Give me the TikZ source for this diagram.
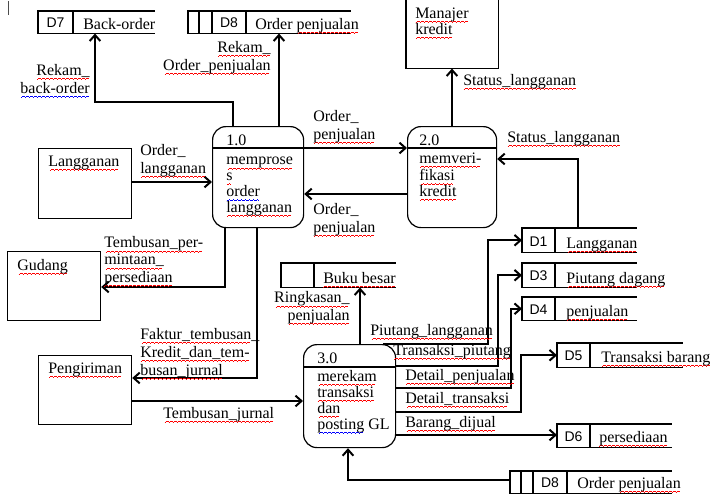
\documentclass[tikz,border=0pt]{standalone}
\usepackage{fontspec}
\setmainfont{Liberation Serif}
\newfontfamily\sansf{Liberation Sans}
\usetikzlibrary{arrows.meta}
\newcommand\wavecell{\hbox{\rule[-3.4pt]{0.75pt}{0.5pt}\rule[-3.0pt]{0.75pt}{0.5pt}\rule[-2.6pt]{0.75pt}{0.5pt}\rule[-3.0pt]{0.75pt}{0.5pt}}}
\newcommand\wv[2]{\setbox0\hbox{#2}\rlap{\color{#1}\hbox to\wd0{\cleaders\wavecell\hfill}}\box0}
\newcommand\redw[1]{\wv{red}{#1}}
\newcommand\bluew[1]{\wv{blue}{#1}}
\tikzset{
  frame/.style={line width=0.9pt},
  ent/.style={draw, line width=0.9pt, inner sep=0, anchor=north west},
  plain/.style={inner sep=0, anchor=north west},
  proc/.style={draw, line width=0.9pt, rounded corners=10pt, inner sep=0, anchor=north west},
  flow/.style={line width=1.7pt, -{Straight Barb[length=4.5pt,width=8pt,line width=1.5pt]}},
  lbl/.style={inner sep=0, anchor=base west, align=left, font=\fontsize{12}{13.5}\selectfont},
  lblr/.style={lbl, anchor=base east, align=right},
  body/.style={lbl, font=\fontsize{12}{11.8}\selectfont},
  dl/.style={inner sep=0, anchor=base, font=\sansf\fontsize{10.5}{12}\selectfont}
}
\begin{document}
\begin{tikzpicture}[x=0.75pt,y=-0.75pt]
\useasboundingbox (0,0) rectangle (710,501);
\draw[line width=0.6pt, black!70] (8,1) -- (8,15);

% external entities
\node[plain, minimum width=92*0.75pt, minimum height=68*0.75pt] (mk) at (406,0) {};
\draw[frame] (mk.north west) -- (mk.south west) -- (mk.south east) -- (mk.north east);
\node[ent, minimum width=93*0.75pt, minimum height=70*0.75pt] (lg) at (38,148) {};
\node[ent, minimum width=93*0.75pt, minimum height=69*0.75pt] (gd) at (7,251) {};
\node[ent, minimum width=93*0.75pt, minimum height=69*0.75pt] (pg) at (38,355) {};
\node[body, font=\fontsize{12}{12}\selectfont] (tmk) at (415,34) {\redw{Manajer}\\\redw{kredit}};
\node[lbl] (tlg) at (48,166) {\redw{Langganan}};
\node[lbl] (tgd) at (17,270) {\redw{Gudang}};
\node[lbl] (tpg) at (48,373) {\redw{Pengiriman}};

% processes
\node[proc, minimum width=91*0.75pt, minimum height=101*0.75pt] (p1) at (212,126) {};
\node[proc, minimum width=89*0.75pt, minimum height=101*0.75pt] (p2) at (407,126) {};
\node[proc, minimum width=92*0.75pt, minimum height=103*0.75pt] (p3) at (303,344) {};
\draw[frame] (p1.west |- 0,148) -- (p1.east |- 0,148);
\draw[frame] (p2.west |- 0,148) -- (p2.east |- 0,148);
\draw[frame] (p3.west |- 0,367) -- (p3.east |- 0,367);
\node[lbl] (n1) at (226,145) {1.0};
\node[body] (b1) at (226,212) {\redw{memprose}\\\redw{s}\\\bluew{order}\\\redw{langganan}};
\node[lbl] (n2) at (419,145) {2.0};
\node[body] (b2) at (419,196) {\redw{memveri-}\\\redw{fikasi}\\\redw{kredit}};
\node[lbl] (n3) at (317,363) {3.0};
\node[body, font=\fontsize{12}{12}\selectfont] (b3) at (317,429) {\redw{merekam}\\\redw{transaksi}\\\redw{dan}\\\bluew{posting}\ GL};

% data stores
\node[plain, minimum width=116*0.75pt, minimum height=22*0.75pt] (d7) at (38,11) {};
\draw[frame] (d7.north east) -- (d7.north west) -- (d7.south west) -- (d7.south east);
\draw[frame] (73,0 |- d7.north) -- (73,0 |- d7.south);
\node[dl] (d7a) at (55.5,27) {D7};
\node[lbl] (d7b) at (83,29) {Back-order};

\node[plain, minimum width=162*0.75pt, minimum height=22*0.75pt] (d8t) at (188,11) {};
\draw[frame] (d8t.north east) -- (d8t.north west) -- (d8t.south west) -- (d8t.south east);
\draw[frame] (199,0 |- d8t.north) -- (199,0 |- d8t.south);
\draw[frame] (212,0 |- d8t.north) -- (212,0 |- d8t.south);
\draw[frame] (246,0 |- d8t.north) -- (246,0 |- d8t.south);
\node[dl] (d8ta) at (229,27) {D8};
\node[lbl] (d8tb) at (255,29) {Order \redw{penjualan}};

\node[plain, minimum width=114*0.75pt, minimum height=24*0.75pt] (bb) at (281,263) {};
\draw[frame] (bb.north east) -- (bb.north west) -- (bb.south west) -- (bb.south east);
\draw[frame] (314,0 |- bb.north) -- (314,0 |- bb.south);
\node[lbl] (bbt) at (323,283) {\redw{Buku besar}};

\node[plain, minimum width=114*0.75pt, minimum height=24*0.75pt] (d1) at (522,228) {};
\draw[frame] (d1.north east) -- (d1.north west) -- (d1.south west) -- (d1.south east);
\draw[frame] (555,0 |- d1.north) -- (555,0 |- d1.south);
\node[dl] (d1a) at (538.5,246) {D1};
\node[lbl] (d1b) at (566,248) {\redw{Langganan}};

\node[plain, minimum width=114*0.75pt, minimum height=24*0.75pt] (d3) at (522,263) {};
\draw[frame] (d3.north east) -- (d3.north west) -- (d3.south west) -- (d3.south east);
\draw[frame] (555,0 |- d3.north) -- (555,0 |- d3.south);
\node[dl] (d3a) at (538.5,280) {D3};
\node[lbl] (d3b) at (566,283) {\redw{Piutang dagang}};

\node[plain, minimum width=114*0.75pt, minimum height=23*0.75pt] (d4) at (522,297) {};
\draw[frame] (d4.north east) -- (d4.north west) -- (d4.south west) -- (d4.south east);
\draw[frame] (555,0 |- d4.north) -- (555,0 |- d4.south);
\node[dl] (d4a) at (538.5,314) {D4};
\node[lbl] (d4b) at (566,316) {\redw{penjualan}};

\node[plain, minimum width=125*0.75pt, minimum height=24*0.75pt] (d5) at (557,343) {};
\draw[frame] (d5.north east) -- (d5.north west) -- (d5.south west) -- (d5.south east);
\draw[frame] (590,0 |- d5.north) -- (590,0 |- d5.south);
\node[dl] (d5a) at (573.5,360) {D5};
\node[lbl] (d5b) at (601,362) {\redw{Transaksi barang}};

\node[plain, minimum width=114*0.75pt, minimum height=23*0.75pt] (d6) at (557,424) {};
\draw[frame] (d6.north east) -- (d6.north west) -- (d6.south west) -- (d6.south east);
\draw[frame] (590,0 |- d6.north) -- (590,0 |- d6.south);
\node[dl] (d6a) at (573.5,441) {D6};
\node[lbl] (d6b) at (599,442) {\redw{persediaan}};

\node[plain, minimum width=161*0.75pt, minimum height=22*0.75pt] (d8b) at (510,471) {};
\draw[frame] (d8b.north east) -- (d8b.north west) -- (d8b.south west) -- (d8b.south east);
\draw[frame] (521,0 |- d8b.north) -- (521,0 |- d8b.south);
\draw[frame] (533,0 |- d8b.north) -- (533,0 |- d8b.south);
\draw[frame] (567,0 |- d8b.north) -- (567,0 |- d8b.south);
\node[dl] (d8ba) at (550,487) {D8};
\node[lbl] (d8bb) at (577,488) {Order \redw{penjualan}};

% flows
\draw[flow] (233,0 |- p1.north) |- (95,102) -- (95,0 |- d7.south);
\draw[flow] (279,0 |- p1.north) -- (279,0 |- d8t.south);
\draw[flow] (452,0 |- p2.north) -- (452,0 |- mk.south);
\draw[flow] (p1.east |- 0,148) -- (p2.west |- 0,148);
\draw[flow] (p2.west |- 0,194) -- (p1.east |- 0,194);
\draw[flow] (lg.east |- 0,182) -- (p1.west |- 0,182);
\draw[flow] (225,0 |- p1.south) |- (gd.east |- 0,287);
\draw[flow] (257,0 |- p1.south) |- (pg.east |- 0,378);
\draw[flow] (pg.east |- 0,401) -- (p3.west |- 0,401);
\draw[flow] (360,0 |- p3.north) -- (360,0 |- bb.south);
\draw[flow] (d8b.west |- 0,480) -| (348,0 |- p3.south);
\draw[flow] (383,0 |- p3.north) -| (488,0 |- d1.west) -- (d1.west);
\draw[flow] (p3.east |- 0,366) -| (498,0 |- d3.west) -- (d3.west);
\draw[flow] (p3.east |- 0,388) -| (511,0 |- d4.west) -- (d4.west);
\draw[flow] (p3.east |- 0,412) -| (521,0 |- d5.west) -- (d5.west);
\draw[flow] (p3.east |- 0,435) -- (d6.west |- 0,435);
\draw[flow] (578,0 |- d1.north) |- (p2.east |- 0,159);

% flow labels
\node[lblr] (f1) at (90,93) {\redw{Rekam\_}\\\bluew{back-order}};
\node[lblr] (f2) at (271,70) {\redw{Rekam\_}\\\redw{Order\_penjualan}};
\node[lbl] (f3) at (463,85) {\redw{Status\_langganan}};
\node[lbl] (f4) at (313,139) {Order\_\\\redw{penjualan}};
\node[lbl] (f5) at (313,232) {Order\_\\\redw{penjualan}};
\node[lbl] (f6) at (140,173) {Order\_\\\redw{langganan}};
\node[lbl, font=\fontsize{12}{12.8}\selectfont] (f7) at (104,282) {\redw{Tembusan\_per-}\\\redw{mintaan\_}\\\redw{persediaan}};
\node[lbl] (f8) at (140,375) {\redw{Faktur\_tembusan}\_\\\redw{Kredit\_dan\_tem-}\\\redw{busan\_jurnal}};
\node[lbl] (f9) at (163,418) {\redw{Tembusan\_jurnal}};
\node[lblr, font=\fontsize{12}{12.8}\selectfont] (f10) at (350,320) {\redw{Ringkasan\_}\\\redw{penjualan}};
\node[lbl] (f11) at (370,335) {\redw{Piutang\_langganan}};
\node[lbl] (f12) at (393,355) {\redw{Transaksi\_piutang}};
\node[lbl] (f13) at (405,380) {\redw{Detail\_penjualan}};
\node[lbl] (f14) at (405,403) {\redw{Detail\_transaksi}};
\node[lbl] (f15) at (405,427) {\redw{Barang\_dijual}};
\node[lbl] (f16) at (507,142) {\redw{Status\_langganan}};
\end{tikzpicture}
\end{document}
